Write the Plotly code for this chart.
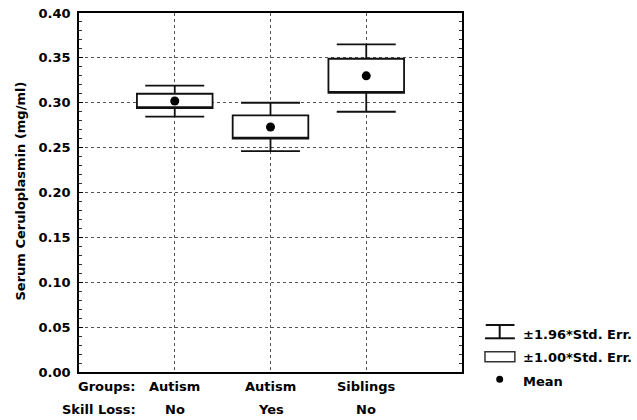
import plotly.graph_objects as go

# ---- data ----
groups = ["Autism", "Autism", "Siblings"]
skill_loss = ["No", "Yes", "No"]
positions = [1, 2, 3]
means = [0.302, 0.273, 0.330]
se1_hi = [0.310, 0.286, 0.349]
se1_lo = [0.294, 0.260, 0.311]
se196_hi = [0.319, 0.300, 0.365]
se196_lo = [0.2845, 0.246, 0.290]
y_ticks = [0.00, 0.05, 0.10, 0.15, 0.20, 0.25, 0.30, 0.35, 0.40]

FONT = "DejaVu Sans"
FS = 13
ink = "#111111"

fig = go.Figure()

# box = ±1.00 SE, whiskers = ±1.96 SE
fig.add_trace(go.Box(
    x=positions,
    q1=se1_lo, q3=se1_hi, median=se1_lo,
    lowerfence=se196_lo, upperfence=se196_hi,
    width=0.79, whiskerwidth=0.78,
    fillcolor="white",
    line=dict(color=ink, width=1.8),
    boxpoints=False,
    showlegend=False, hoverinfo="skip",
))

# means
fig.add_trace(go.Scatter(
    x=positions, y=means, mode="markers",
    marker=dict(size=9, color="black"),
    showlegend=False,
))

annotations = []
# category labels
for p, g, s in zip(positions, groups, skill_loss):
    annotations.append(dict(x=p, xref="x", y=0, yref="paper", yshift=-14,
                            yanchor="middle", xanchor="center", text=g, showarrow=False))
    annotations.append(dict(x=p, xref="x", y=0, yref="paper", yshift=-37,
                            yanchor="middle", xanchor="center", text=s, showarrow=False))
annotations.append(dict(x=0.1540, xref="paper", y=0, yref="paper", yshift=-14,
                        yanchor="middle", xanchor="right", text="Groups:", showarrow=False))
annotations.append(dict(x=0.1540, xref="paper", y=0, yref="paper", yshift=-37,
                        yanchor="middle", xanchor="right", text="Skill Loss:", showarrow=False))
# y axis title
annotations.append(dict(x=0, xref="paper", xshift=-59, y=0.5, yref="paper", yshift=1,
                        textangle=-90, xanchor="center", yanchor="middle",
                        text="Serum Ceruloplasmin (mg/ml)", showarrow=False))
# legend texts
for ytxt, t in [(0.1058, "±1.96*Std. Err."), (0.0390, "±1.00*Std. Err."), (-0.0251, "Mean")]:
    annotations.append(dict(x=1.1540, xref="paper", y=ytxt, yref="paper",
                            xanchor="left", yanchor="middle", text=t, showarrow=False))

shapes = [
    # legend whisker glyph
    dict(type="line", xref="paper", yref="paper", x0=1.062, x1=1.137, y0=0.1309, y1=0.1309,
         line=dict(color=ink, width=2)),
    dict(type="line", xref="paper", yref="paper", x0=1.060, x1=1.138, y0=0.0939, y1=0.0939,
         line=dict(color=ink, width=2)),
    dict(type="line", xref="paper", yref="paper", x0=1.0984, x1=1.0984, y0=0.0939, y1=0.1309,
         line=dict(color=ink, width=2)),
    # legend box glyph
    dict(type="rect", xref="paper", yref="paper", x0=1.060, x1=1.138, y0=0.0287, y1=0.0565,
         line=dict(color="#333333", width=1.5), fillcolor="white"),
    # legend dot
    dict(type="circle", xref="paper", yref="paper", xsizemode="pixel", ysizemode="pixel",
         xanchor=1.0984, yanchor=-0.0203, x0=-3.5, x1=3.5, y0=-3.5, y1=3.5,
         fillcolor="black", line=dict(color="black", width=0)),
]

fig.update_layout(
    width=637, height=420,
    margin=dict(l=79, r=175, t=13, b=48),
    paper_bgcolor="white", plot_bgcolor="white",
    font=dict(family=FONT, size=FS, color="black", weight="bold"),
    showlegend=False,
    annotations=annotations,
    shapes=shapes,
    xaxis=dict(range=[0, 4], tickvals=positions, showticklabels=False,
               showgrid=True, gridcolor="#555555", griddash="dot", gridwidth=1,
               showline=True, linecolor="black", linewidth=1.5, mirror=True,
               ticks="", zeroline=False, fixedrange=True, automargin=False),
    yaxis=dict(range=[0, 0.4], tickvals=y_ticks, tickformat=".2f",
               showgrid=True, gridcolor="#555555", griddash="dot", gridwidth=1,
               showline=True, linecolor="black", linewidth=1.5, mirror="ticks",
               ticks="inside", ticklen=4, tickcolor="black",
               minor=dict(dtick=0.01, ticks="inside", ticklen=3, tickcolor="#333333", showgrid=False),
               zeroline=False, ticklabelstandoff=4, fixedrange=True, automargin=False,
               ticklabeloverflow="allow"),
)

# remove the page's default body margin so the 637x420 figure fills the window exactly
fig.write_html("out.html",
               config={"displayModeBar": False},
               post_script="document.body.style.margin='0';document.body.style.overflow='hidden';")
